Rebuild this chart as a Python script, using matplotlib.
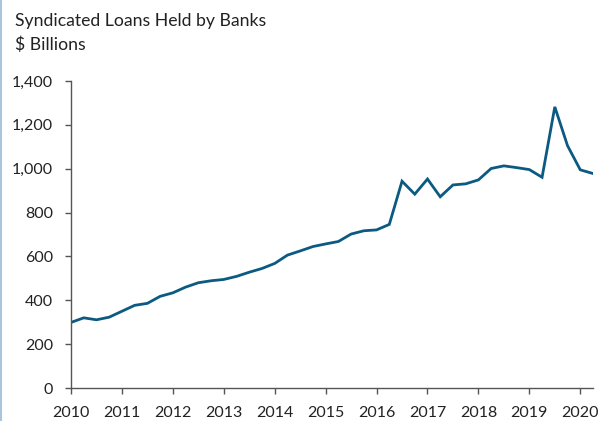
import matplotlib
matplotlib.use("Agg")
import matplotlib.pyplot as plt
from matplotlib.ticker import FuncFormatter
from matplotlib.lines import Line2D

plt.rcParams['font.family'] = ['Lato', 'DejaVu Sans']

quarters = [2010 + 0.25 * i for i in range(42)]
loans = [299, 320, 311, 323, 350, 377, 386, 418, 434, 460, 480, 489,
         495, 509, 528, 545, 568, 606, 625, 645, 657, 668, 702, 717,
         721, 746, 943, 884, 953, 872, 926, 931, 949, 1001, 1013, 1005,
         996, 961, 1282, 1105, 995, 978]
year_ticks = list(range(2010, 2021))
y_ticks = [0, 200, 400, 600, 800, 1000, 1200, 1400]

fig = plt.figure(figsize=(6.0, 4.21), dpi=100)
ax = fig.add_axes([71/600, 1 - 388/421, (593 - 71)/600, (388 - 81)/421])

ax.plot(quarters, loans, color='#0b5a82', lw=2.0, solid_joinstyle='miter')

ax.set_xlim(2010, 2020.25)
ax.set_ylim(0, 1400)
ax.set_xticks(year_ticks)
ax.set_xticklabels([str(y) for y in year_ticks])
ax.set_yticks(y_ticks)
ax.yaxis.set_major_formatter(FuncFormatter(lambda v, p: f"{int(v):,}"))

for s in ['top', 'right']:
    ax.spines[s].set_visible(False)
for s in ['left', 'bottom']:
    ax.spines[s].set_color('#555555')
    ax.spines[s].set_linewidth(1.0)
ax.tick_params(axis='both', direction='out', length=4.5, width=1.0, color='#555555',
               labelsize=11.5, labelcolor='#222222')
ax.tick_params(axis='y', pad=8.5)
ax.tick_params(axis='x', pad=8.5)

fig.text(15/600, 1 - 21/421, 'Syndicated Loans Held by Banks', fontsize=12.7,
         color='#222222', va='center', ha='left')
fig.text(15/600, 1 - 45/421, '$ Billions', fontsize=12.7,
         color='#222222', va='center', ha='left')

fig.add_artist(Line2D([1/600, 1/600], [0, 1], transform=fig.transFigure,
                      color='#a9c6dc', lw=1.5))

fig.savefig('out.png', dpi=100)
